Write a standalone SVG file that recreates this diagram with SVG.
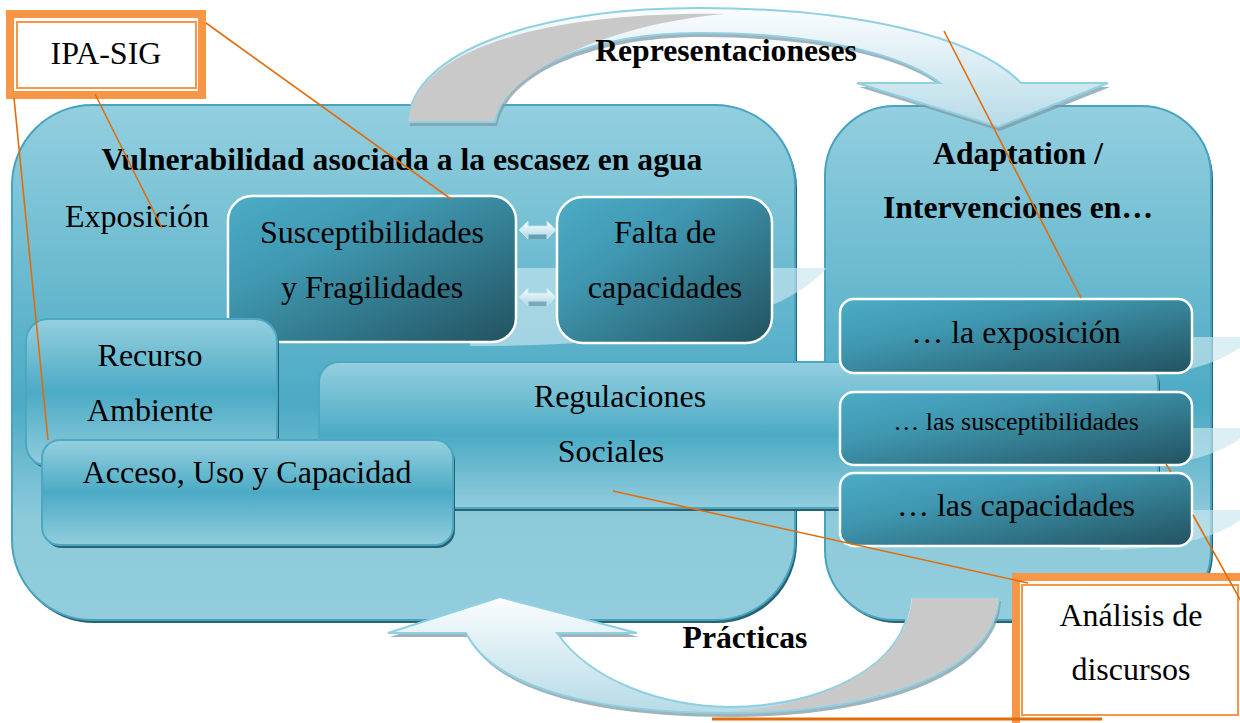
<svg xmlns="http://www.w3.org/2000/svg" width="1240" height="723" viewBox="0 0 1240 723">
<defs>
<linearGradient id="gBig" x1="0" y1="0" x2="0" y2="1">
<stop offset="0" stop-color="#93cfdf"/>
<stop offset="0.58" stop-color="#4caac4"/>
<stop offset="0.8" stop-color="#8ccada"/>
<stop offset="1" stop-color="#93cddd"/>
</linearGradient>
<linearGradient id="gLight" x1="0" y1="0" x2="0" y2="1">
<stop offset="0" stop-color="#95cfdf"/>
<stop offset="0.5" stop-color="#4babc5"/>
<stop offset="1" stop-color="#92cddd"/>
</linearGradient>
<linearGradient id="gDark" x1="0" y1="0" x2="1" y2="1">
<stop offset="0" stop-color="#4cacc7"/>
<stop offset="0.35" stop-color="#3f97b0"/>
<stop offset="1" stop-color="#22525f"/>
</linearGradient>
<linearGradient id="gArrow" x1="0" y1="0" x2="0" y2="1">
<stop offset="0" stop-color="#fbfdfe"/>
<stop offset="1" stop-color="#b6dbe7"/>
</linearGradient>
<linearGradient id="gDbl" x1="0" y1="0" x2="0" y2="1">
<stop offset="0" stop-color="#ffffff"/>
<stop offset="1" stop-color="#a9d8e6"/>
</linearGradient>
<style>
.t{font-family:"Liberation Serif","Times New Roman",serif;font-size:32px;fill:#000;text-anchor:middle}
.b{font-weight:bold;font-size:31.7px}
.big{fill:url(#gBig);stroke:#47a4bf;stroke-width:2}
.sh{fill:#2a6272}
.light{fill:url(#gLight);stroke:#4ca8c2;stroke-width:2}
.dark{fill:url(#gDark);stroke:#ffffff;stroke-width:2.5}
.wedge{fill:#c9e6ef;opacity:0.65}
.arr{fill:url(#gArrow);stroke:#8fd0e1;stroke-width:2}
.ash{fill:#7f9aa5;opacity:0.75}
.gray{fill:#c9c9c9}
.dbl{fill:url(#gDbl);stroke:#bfe3ee;stroke-width:1}
.con{stroke:#e36c0a;stroke-width:1.6;fill:none}
.frame{fill:#ffffff;stroke:#f79646;stroke-width:8}
.inner{fill:none;stroke:#f79646;stroke-width:2}
</style>
</defs>
<rect width="1240" height="723" fill="#ffffff"/>

<g id="vulnerabilidad">
<rect class="sh" x="14" y="108" width="783" height="515" rx="80"/>
<rect class="big" x="12" y="105" width="783" height="515" rx="80"/>
<text class="t b" x="402" y="170">Vulnerabilidad asociada a la escasez en agua</text>
<text class="t" x="65" y="227" style="text-anchor:start">Exposición</text>
</g>

<g id="adaptation">
<rect class="sh" x="827" y="109" width="386" height="514" rx="70"/>
<rect class="big" x="825" y="106" width="386" height="514" rx="70"/>
<text class="t b" x="1018" y="164">Adaptation /</text>
<text class="t b" x="1018" y="218">Intervenciones en…</text>
</g>

<g id="representaciones">
<path class="ash" transform="translate(2,4)" d="M408,122 C412,50 540,8 700,8 C850,8 975,35 1021,83 L1108,83 L998,127 L857,83 L940,83 C900,52 810,33 700,33 C590,33 505,70 495,122 Z"/>
<path class="arr" d="M408,122 C412,50 540,8 700,8 C850,8 975,35 1021,83 L1108,83 L998,127 L857,83 L940,83 C900,52 810,33 700,33 C590,33 505,70 495,122 Z"/>
<path class="gray" d="M409,121 C413,52 540,11 725,14 C610,24 507,70 494,121 Z"/>
<text class="t b" x="726" y="61">Representacioneses</text>
</g>

<g id="practicas">
<path class="ash" transform="translate(2,4)" d="M999,597 C995,675 870,713 729,713 C600,713 495,690 466,633 L388,633 L500,597 L637,633 L557,633 C590,680 660,706 729,707 C820,706 905,670 911,597 Z"/>
<path class="arr" d="M999,597 C995,675 870,713 729,713 C600,713 495,690 466,633 L388,633 L500,597 L637,633 L557,633 C590,680 660,706 729,707 C820,706 905,670 911,597 Z"/>
<path class="gray" d="M998,598 C994,674 870,712 729,712 C820,705 906,670 912,598 Z"/>
<text class="t b" x="745" y="648">Prácticas</text>
</g>

<g id="wedges">
<path class="wedge" d="M470,346 C600,346 765,336 827,268 L470,268 Z"/>
<path class="wedge" d="M1100,337 L1254,337 C1232,355 1202,377 1100,378 Z"/>
<path class="wedge" d="M1100,428 L1254,428 C1232,446 1202,468 1100,469 Z"/>
<path class="wedge" d="M1100,510 L1254,510 C1232,528 1202,549 1100,550 Z"/>
</g>

<g id="susceptibilidades">
<rect class="dark" x="228" y="196" width="288" height="146" rx="24"/>
<text class="t" x="372" y="243">Susceptibilidades</text>
<text class="t" x="372" y="298">y Fragilidades</text>
</g>

<g id="falta">
<rect class="dark" x="557" y="197" width="215" height="146" rx="26"/>
<text class="t" x="665" y="243">Falta de</text>
<text class="t" x="665" y="298">capacidades</text>
</g>

<g id="double-arrows">
<path fill="#5e8e9c" opacity="0.6" transform="translate(0,5)" d="M528,226 L547,226 L547,234 L528,234 Z"/>
<path class="dbl" d="M519,230 L528,221 L528,226 L547,226 L547,221 L556,230 L547,239 L547,234 L528,234 L528,239 Z"/>
<path fill="#5e8e9c" opacity="0.6" transform="translate(0,5)" d="M528,293 L547,293 L547,301 L528,301 Z"/>
<path class="dbl" d="M519,297 L528,288 L528,293 L547,293 L547,288 L556,297 L547,306 L547,301 L528,301 L528,306 Z"/>
</g>

<g id="recurso">
<rect class="sh" x="28" y="322" width="251" height="147" rx="22"/>
<rect class="light" x="26" y="319" width="251" height="147" rx="22"/>
<text class="t" x="150" y="366">Recurso</text>
<text class="t" x="150" y="421">Ambiente</text>
</g>

<g id="regulaciones">
<rect class="sh" x="321" y="365" width="839" height="146" rx="20"/>
<rect class="light" x="319" y="362" width="839" height="146" rx="20"/>
<text class="t" x="620" y="407">Regulaciones</text>
<text class="t" x="611" y="462">Sociales</text>
</g>

<g id="acceso">
<rect class="sh" x="44" y="443" width="411" height="105" rx="18"/>
<rect class="light" x="42" y="440" width="411" height="105" rx="18"/>
<text class="t" x="247" y="483">Acceso, Uso y Capacidad</text>
</g>

<g id="int-exposicion">
<rect class="dark" x="840" y="299" width="352" height="74" rx="14"/>
<text class="t" x="1016" y="343">… la exposición</text>
</g>

<g id="int-susceptibilidades">
<rect class="dark" x="840" y="392" width="352" height="73" rx="14"/>
<text class="t" x="1016" y="430" style="font-size:26px">… las susceptibilidades</text>
</g>

<g id="int-capacidades">
<rect class="dark" x="840" y="473" width="352" height="73" rx="14"/>
<text class="t" x="1016" y="516">… las capacidades</text>
</g>

<g id="ipa-sig">
<rect class="frame" x="10" y="14" width="192" height="81"/>
<rect class="inner" x="17" y="22" width="179" height="66"/>
<text class="t" x="106" y="64">IPA-SIG</text>
</g>

<g id="analisis">
<rect class="frame" x="1016" y="577" width="240" height="150"/>
<rect class="inner" x="1022" y="585" width="216" height="130"/>
<text class="t" x="1131" y="626">Análisis de</text>
<text class="t" x="1131" y="680">discursos</text>
</g>

<g id="connectors">
<line class="con" x1="95" y1="94" x2="162" y2="228"/>
<line class="con" x1="206" y1="23" x2="451" y2="199"/>
<line class="con" x1="14" y1="98" x2="48" y2="440"/>
<line class="con" x1="944" y1="31" x2="1081" y2="298"/>
<line class="con" x1="613" y1="491" x2="1028" y2="583"/>
<path class="con" d="M1166,464 L1171,472 M1193,515 L1242,603"/>
<line class="con" x1="712" y1="719" x2="1102" y2="719" style="stroke-width:3"/>
</g>
</svg>
